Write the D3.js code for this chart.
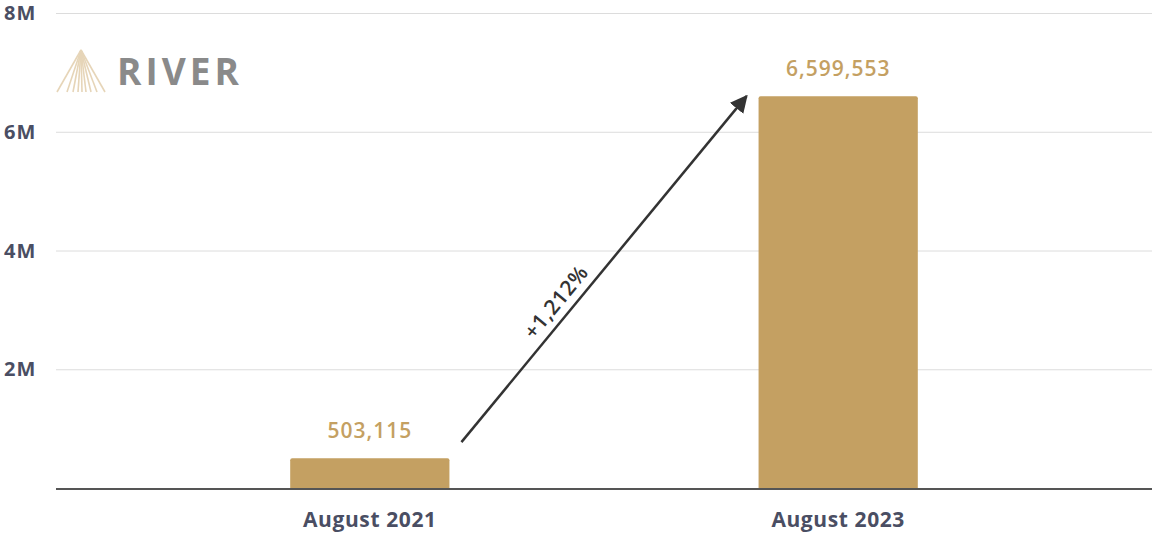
<!DOCTYPE html>
<html>
<head>
<meta charset="utf-8">
<script src="https://cdn.jsdelivr.net/npm/d3@7"></script>
<style>
  body { margin: 0; background: #fff; }
  text { font-family: "Open Sans", "Noto Sans", sans-serif; }
</style>
</head>
<body>
<svg width="1152" height="535"></svg>
<script>
var categories = ["August 2021", "August 2023"];
var values = [503115, 6599553];
var yTicks = [2000000, 4000000, 6000000, 8000000];
var yTickLabels = ["2M", "4M", "6M", "8M"];
var changeLabel = "+1,212%";

var svg = d3.select("svg"),
    margin = {top: 13, right: 0, bottom: 47, left: 56},
    width = +svg.attr("width"),
    height = +svg.attr("height");

var x = d3.scaleBand().domain(categories)
    .range([margin.left, width - margin.right])
    .paddingInner(0.66).paddingOuter(0.5);
var y = d3.scaleLinear().domain([0, 8000000])
    .range([height - margin.bottom, margin.top]);

var gold = "#c4a062", axisText = "#4a4e63";

// gridlines
svg.append("g").selectAll("line")
    .data(yTicks)
    .enter().append("line")
    .attr("x1", margin.left).attr("x2", width)
    .attr("y1", function (d) { return y(d) + 0.5; })
    .attr("y2", function (d) { return y(d) + 0.5; })
    .attr("stroke", "#dcdcdc").attr("stroke-width", 1);

// y labels
svg.append("g").selectAll("text")
    .data(yTicks)
    .enter().append("text")
    .attr("x", 4)
    .attr("y", function (d) { return y(d); })
    .attr("dy", "0.36em")
    .attr("fill", axisText)
    .attr("font-size", 20)
    .attr("font-weight", 700)
    .attr("letter-spacing", 1)
    .text(function (d, i) { return yTickLabels[i]; });

// bars
svg.append("g").selectAll("rect")
    .data(values)
    .enter().append("rect")
    .attr("x", function (d, i) { return x(categories[i]); })
    .attr("y", function (d) { return y(d); })
    .attr("width", x.bandwidth())
    .attr("height", function (d) { return y(0) - y(d) + 2; })
    .attr("rx", 2)
    .attr("fill", gold);

// value labels
svg.append("g").selectAll("text")
    .data(values)
    .enter().append("text")
    .attr("x", function (d, i) { return x(categories[i]) + x.bandwidth() / 2; })
    .attr("y", function (d) { return y(d) - 20; })
    .attr("text-anchor", "middle")
    .attr("fill", gold)
    .attr("font-size", 21)
    .attr("font-weight", 600)
    .attr("letter-spacing", 1)
    .text(function (d) { return d3.format(",")(d); });

// baseline
svg.append("line")
    .attr("x1", margin.left).attr("x2", width)
    .attr("y1", y(0) + 1).attr("y2", y(0) + 1)
    .attr("stroke", "#555").attr("stroke-width", 2);

// x labels
svg.append("g").selectAll("text")
    .data(categories)
    .enter().append("text")
    .attr("x", function (d) { return x(d) + x.bandwidth() / 2; })
    .attr("y", y(0) + 39)
    .attr("text-anchor", "middle")
    .attr("fill", axisText)
    .attr("font-size", 21)
    .attr("font-weight", 700)
    .attr("letter-spacing", 0.6)
    .text(function (d) { return d; });

// arrow
svg.append("defs").append("marker")
    .attr("id", "head")
    .attr("viewBox", "0 0 10 10")
    .attr("refX", 9).attr("refY", 5)
    .attr("markerWidth", 7).attr("markerHeight", 7)
    .attr("markerUnits", "strokeWidth")
    .attr("orient", "auto")
    .append("path").attr("d", "M0,0L10,5L0,10z").attr("fill", "#333");

var x0 = x(categories[0]) + x.bandwidth() + 12, y0 = y(values[0]) - 16,
    x1 = x(categories[1]) - 12, y1 = y(values[1]);
svg.append("line")
    .attr("x1", x0).attr("y1", y0)
    .attr("x2", x1).attr("y2", y1)
    .attr("stroke", "#333").attr("stroke-width", 2.5)
    .attr("marker-end", "url(#head)");

var ang = Math.atan2(y1 - y0, x1 - x0) * 180 / Math.PI;
svg.append("text")
    .attr("transform", "translate(" + 556 + "," + 302 + ") rotate(" + ang + ")")
    .attr("text-anchor", "middle")
    .attr("dy", "0.35em")
    .attr("fill", "#333")
    .attr("font-size", 21)
    .attr("font-weight", 600)
    .attr("letter-spacing", 0.5)
    .text(changeLabel);

// logo
var logo = svg.append("g").attr("transform", "translate(56,50)");
var fan = [-24, -14, -8, -3, 1, 5, 10, 16, 24];
logo.selectAll("line")
    .data(fan)
    .enter().append("line")
    .attr("x1", 25).attr("y1", 0)
    .attr("x2", function (d) { return 25 + d; }).attr("y2", 42)
    .attr("stroke", "#e6d5b8").attr("stroke-width", 1.6);
logo.append("text")
    .attr("x", 61).attr("y", 35)
    .attr("fill", "#8a8a8a")
    .attr("font-family", "'DejaVu Sans', sans-serif")
    .attr("font-size", 37)
    .attr("font-weight", 700)
    .attr("letter-spacing", 4)
    .text("RIVER");
</script>
</body>
</html>
